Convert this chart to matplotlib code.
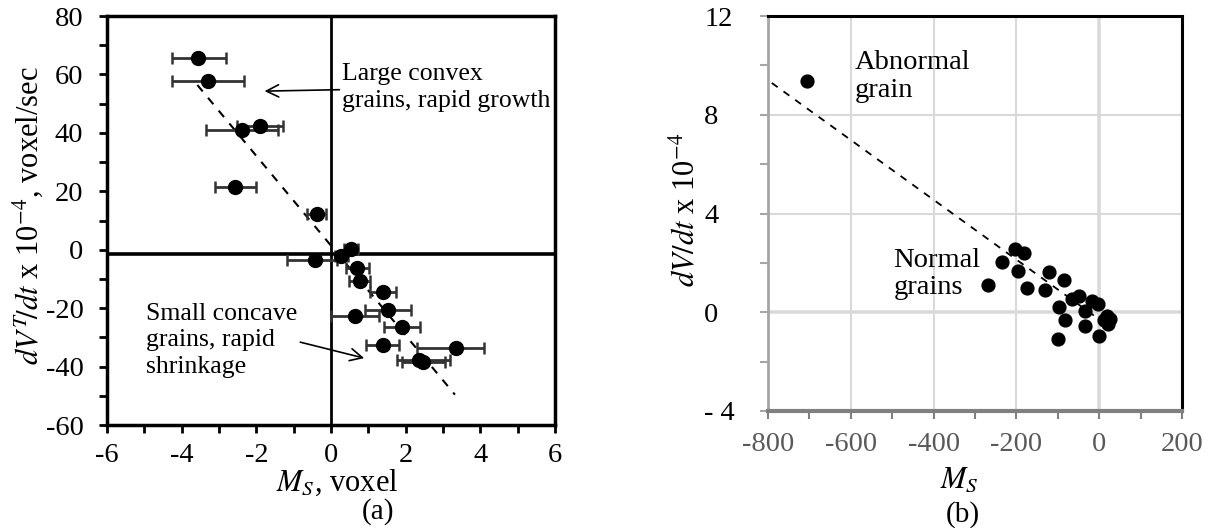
import matplotlib
matplotlib.use("Agg")
import matplotlib.pyplot as plt
from matplotlib.ticker import MultipleLocator

plt.rcParams["font.family"] = ["Liberation Serif", "DejaVu Serif"]
plt.rcParams["mathtext.fontset"] = "stix"
plt.rcParams["axes.unicode_minus"] = False

# --- panel (a): Ms vs dV^T/dt, with x error bars
a_ms = [-3.55, -3.29, -1.91, -2.38, -2.56, -0.38, 0.54, 0.28, -0.44, 0.70, 0.79,
        1.38, 1.52, 0.64, 1.90, 1.38, 3.34, 2.37, 2.47]
a_dv = [65.5, 57.8, 42.4, 41.1, 21.6, 12.3, 0.2, -2.1, -3.5, -6.3, -10.7,
        -14.4, -20.6, -22.7, -26.5, -32.6, -33.6, -37.6, -38.3]
a_lo = [-4.25, -4.25, -2.51, -3.35, -3.10, -0.65, 0.34, 0.10, -1.19, 0.39, 0.47,
        1.04, 0.91, 0.01, 1.42, 0.95, 2.30, 1.76, 1.90]
a_hi = [-2.81, -2.33, -1.28, -1.41, -2.00, -0.14, 0.73, 0.45, 0.16, 1.02, 1.04,
        1.74, 2.15, 1.29, 2.39, 1.81, 4.10, 3.18, 3.05]
a_fit_x = [-3.58, 3.32]
a_fit_y = [56.4, -49.6]
a_hline = -1.5

# --- panel (b): Ms vs dV/dt
b_ms = [-705, -204, -181, -234, -196, -268, -174, -122, -86, -132, -66, -50, -18,
        -4, -98, -34, -82, -34, -100, 0, 18, 26, 22, 12]
b_dv = [9.36, 2.58, 2.40, 2.04, 1.67, 1.09, 0.98, 1.62, 1.30, 0.92, 0.53, 0.66,
        0.46, 0.35, 0.21, 0.05, -0.32, -0.55, -1.07, -0.96, -0.16, -0.26, -0.49, -0.32]
b_fit_x = [-791, -5]
b_fit_y = [9.29, -0.23]
b_yticks = [-4, 0, 4, 8, 12]
b_yticklabels = ["- 4", "0", "4", "8", "12"]

TK = 20.5   # tick labels
LB = 22     # axis labels
AN = 18.5   # annotations
fig = plt.figure(figsize=(12.12, 5.28), dpi=100)

# ---------------- (a)
ax = fig.add_axes([0.0883, 0.195, 0.3696, 0.7746])
ax.set_xlim(-6, 6); ax.set_ylim(-60, 80)
ax.axvline(0, color="k", lw=2, zorder=1)
ax.axhline(a_hline, color="k", lw=2.6, zorder=1)
ax.plot(a_fit_x, a_fit_y, "k--", lw=1.5, dashes=(4, 4), zorder=2)
xerr = [[m - lo for m, lo in zip(a_ms, a_lo)], [hi - m for m, hi in zip(a_ms, a_hi)]]
ax.errorbar(a_ms, a_dv, xerr=xerr, fmt="o", color="k", ms=10, ecolor="#333333",
            elinewidth=2, capsize=4, capthick=1.8, zorder=3)
ax.xaxis.set_major_locator(MultipleLocator(2)); ax.xaxis.set_minor_locator(MultipleLocator(1))
ax.yaxis.set_major_locator(MultipleLocator(20)); ax.yaxis.set_minor_locator(MultipleLocator(10))
ax.tick_params(which="both", direction="out", width=2, length=6, labelsize=TK, color="k")
ax.tick_params(axis="x", which="both", pad=7)
ax.tick_params(axis="y", which="both", pad=11)
for s in ax.spines.values():
    s.set_linewidth(2.5)
ax.set_xlabel(r"$M_S$, voxel", fontsize=LB, va="center")
ax.xaxis.set_label_coords(0.513, -0.142)
ax.set_ylabel(r"$dV^T\!/dt$ x 10$^{-4}$, voxel/sec", fontsize=LB, va="center")
ax.yaxis.set_label_coords(-0.178, 0.513)
ax.annotate("Large convex\ngrains, rapid growth", xy=(-1.78, 54.3), xytext=(0.3, 55.5),
            fontsize=AN, va="center", ha="left", linespacing=1.25,
            arrowprops=dict(arrowstyle="->", color="k", lw=1.2, mutation_scale=22, shrinkA=0, shrinkB=0))
ax.annotate("Small concave\ngrains, rapid\nshrinkage", xy=(0.89, -37.1), xytext=(-4.95, -31),
            fontsize=AN, va="center", ha="left", linespacing=1.25,
            arrowprops=dict(arrowstyle="->", color="k", lw=1.2, mutation_scale=22,
                            shrinkA=0, shrinkB=0, relpos=(0.97, 0.5)))
fig.text(378 / 1212, 1 - 512 / 528, "(a)", fontsize=LB - 1, ha="center", va="center")

# ---------------- (b)
bx = fig.add_axes([0.6337, 0.2216, 0.3416, 0.748])
bx.set_xlim(-800, 200); bx.set_ylim(-4, 12)
bx.xaxis.set_major_locator(MultipleLocator(200)); bx.xaxis.set_minor_locator(MultipleLocator(100))
bx.yaxis.set_minor_locator(MultipleLocator(2))
bx.grid(True, which="major", color="#d9d9d9", lw=1.5, zorder=0)
bx.axvline(0, color="k", lw=1.6, zorder=1)
bx.axhline(0, color="k", lw=1.6, zorder=1)
bx.plot(b_fit_x, b_fit_y, "k--", lw=1.3, dashes=(4, 4), zorder=2)
bx.scatter(b_ms, b_dv, s=85, color="k", zorder=3)
bx.set_yticks(b_yticks)
bx.set_yticklabels(b_yticklabels)
bx.tick_params(axis="x", which="both", direction="out", length=6, width=1.5, pad=9,
               color="#808080", labelcolor="#595959", labelsize=TK)
bx.tick_params(axis="y", which="both", direction="out", length=6, width=1.5, pad=40,
               color="#a6a6a6", labelsize=TK)
for lbl in bx.get_yticklabels():
    lbl.set_horizontalalignment("left")
bx.spines["left"].set_color("#a6a6a6"); bx.spines["left"].set_linewidth(2)
bx.spines["bottom"].set_color("#808080"); bx.spines["bottom"].set_linewidth(3)
bx.spines["top"].set_linewidth(2.2); bx.spines["right"].set_linewidth(2.2)
bx.set_xlabel(r"$M_S$", fontsize=LB, va="center")
bx.xaxis.set_label_coords(0.461, -0.175)
bx.set_ylabel(r"$dV/dt$ x 10$^{-4}$", fontsize=LB, va="center")
bx.yaxis.set_label_coords((686 - 768) / 414, 0.51)
bx.text(-591, 9.55, "Abnormal\ngrain", fontsize=AN + 2, va="center", ha="left", linespacing=1.15)
bx.text(-497, 1.55, "Normal\ngrains", fontsize=AN + 2, va="center", ha="left", linespacing=1.15)
fig.text(963 / 1212, 1 - 515 / 528, "(b)", fontsize=LB - 1, ha="center", va="center")

fig.savefig("out.png", dpi=100)
